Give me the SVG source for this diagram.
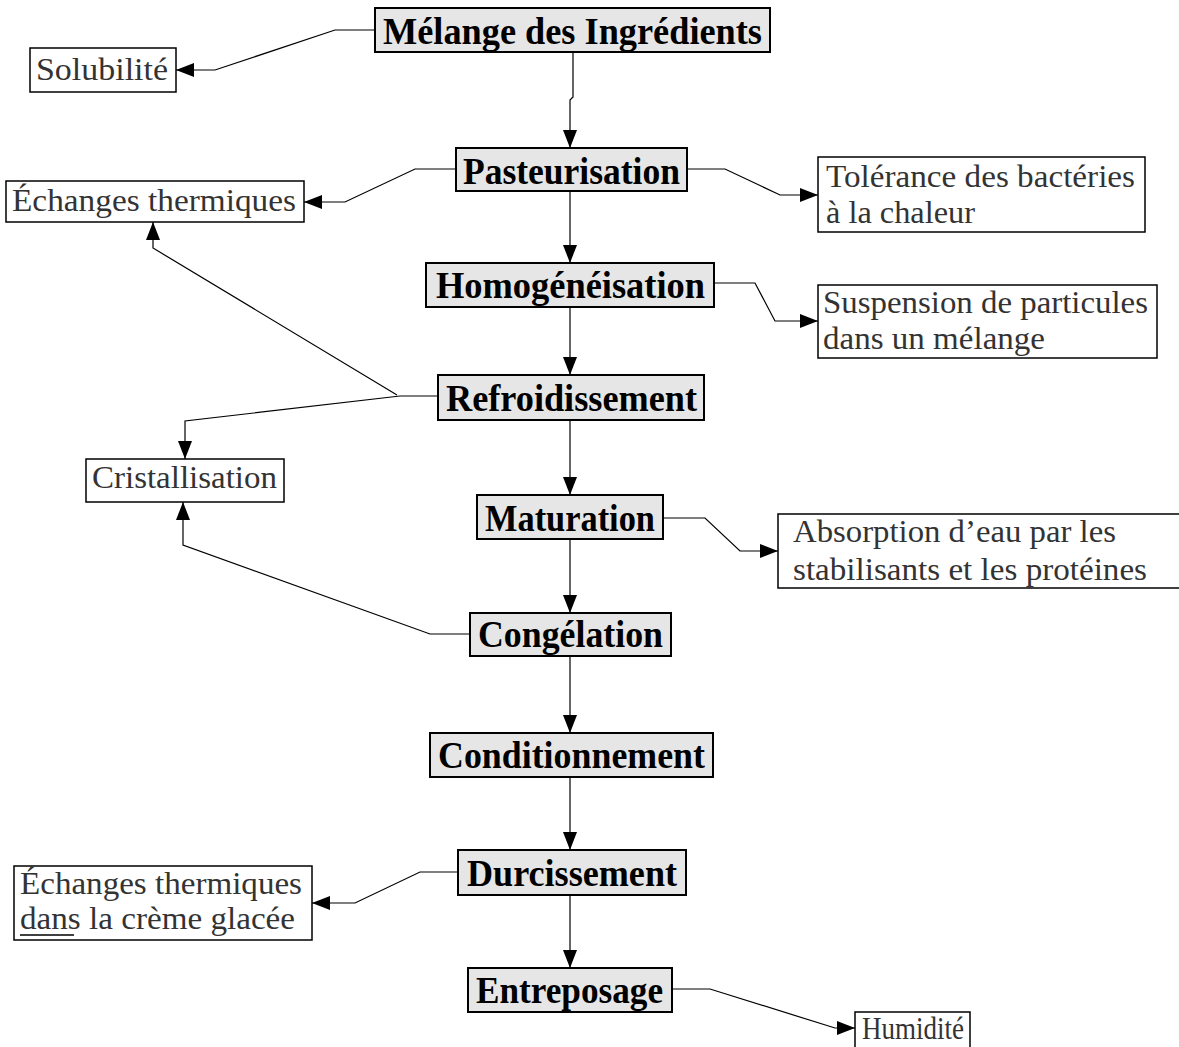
<svg xmlns="http://www.w3.org/2000/svg" width="1179" height="1047" viewBox="0 0 1179 1047">
<style>
.main rect{fill:#e6e6e6;stroke:#000;stroke-width:2}
.main text{font-family:"Liberation Serif","Times New Roman",serif;font-weight:bold;font-size:37px;fill:#000}
.side rect{fill:#fff;stroke:#000;stroke-width:1.5}
.side text{font-family:"Liberation Serif","Times New Roman",serif;font-size:31px;fill:#333}
#connectors path{fill:none;stroke:#000;stroke-width:1.2}
</style>
<defs>
<marker id="ah" markerWidth="18" markerHeight="14" refX="18" refY="7" orient="auto" markerUnits="userSpaceOnUse">
<path d="M0,0 L18,7 L0,14 Z" fill="#000"/>
</marker>
</defs>
<rect width="1179" height="1047" fill="#fff"/>
<g id="connectors">
<path d="M573,52 V97 L570,100 V148" marker-end="url(#ah)"/>
<path d="M570,191 V263" marker-end="url(#ah)"/>
<path d="M570,307 V375" marker-end="url(#ah)"/>
<path d="M570,420 V495" marker-end="url(#ah)"/>
<path d="M570,539 V613" marker-end="url(#ah)"/>
<path d="M570,656 V733" marker-end="url(#ah)"/>
<path d="M570,777 V850" marker-end="url(#ah)"/>
<path d="M570,895 V968" marker-end="url(#ah)"/>
<path d="M375,30 H335 L215,70 H176" marker-end="url(#ah)"/>
<path d="M456,169 H415 L345,202 H304" marker-end="url(#ah)"/>
<path d="M687,169 H725 L780,195 H818" marker-end="url(#ah)"/>
<path d="M714,283 H755 L775,321 H818" marker-end="url(#ah)"/>
<path d="M438,396 H400 L185,421 V459" marker-end="url(#ah)"/>
<path d="M397,395 L153,248 V222" marker-end="url(#ah)"/>
<path d="M663,518 H705 L740,551 H778" marker-end="url(#ah)"/>
<path d="M470,634 H430 L183,545 V502" marker-end="url(#ah)"/>
<path d="M458,872 H420 L355,903 H312" marker-end="url(#ah)"/>
<path d="M672,989 H710 L835,1028 H855" marker-end="url(#ah)"/>
</g>
<g id="melange" class="main"><rect x="375" y="8" width="395" height="44"/><text x="383" y="44" textLength="379" lengthAdjust="spacingAndGlyphs">Mélange des Ingrédients</text></g>
<g id="pasteurisation" class="main"><rect x="456" y="148" width="231" height="43"/><text x="463" y="184" textLength="217" lengthAdjust="spacingAndGlyphs">Pasteurisation</text></g>
<g id="homogeneisation" class="main"><rect x="426" y="263" width="288" height="44"/><text x="436" y="298" textLength="269" lengthAdjust="spacingAndGlyphs">Homogénéisation</text></g>
<g id="refroidissement" class="main"><rect x="438" y="375" width="266" height="45"/><text x="446" y="411" textLength="251" lengthAdjust="spacingAndGlyphs">Refroidissement</text></g>
<g id="maturation" class="main"><rect x="477" y="495" width="186" height="44"/><text x="485" y="531" textLength="170" lengthAdjust="spacingAndGlyphs">Maturation</text></g>
<g id="congelation" class="main"><rect x="470" y="613" width="201" height="43"/><text x="478" y="647" textLength="185" lengthAdjust="spacingAndGlyphs">Congélation</text></g>
<g id="conditionnement" class="main"><rect x="430" y="733" width="283" height="44"/><text x="438" y="768" textLength="267" lengthAdjust="spacingAndGlyphs">Conditionnement</text></g>
<g id="durcissement" class="main"><rect x="458" y="850" width="228" height="45"/><text x="467" y="886" textLength="210" lengthAdjust="spacingAndGlyphs">Durcissement</text></g>
<g id="entreposage" class="main"><rect x="468" y="968" width="204" height="44"/><text x="476" y="1003" textLength="187" lengthAdjust="spacingAndGlyphs">Entreposage</text></g>
<g id="solubilite" class="side"><rect x="30" y="48" width="146" height="44"/><text x="36" y="80" textLength="132" lengthAdjust="spacingAndGlyphs">Solubilité</text></g>
<g id="echanges1" class="side"><rect x="6" y="181" width="298" height="41"/><text x="12" y="211" textLength="284" lengthAdjust="spacingAndGlyphs">Échanges thermiques</text></g>
<g id="tolerance" class="side"><rect x="818" y="157" width="327" height="75"/><text x="826" y="187" textLength="309" lengthAdjust="spacingAndGlyphs">Tolérance des bactéries</text><text x="826" y="223" textLength="149" lengthAdjust="spacingAndGlyphs">à la chaleur</text></g>
<g id="suspension" class="side"><rect x="818" y="285" width="339" height="73"/><text x="823" y="313" textLength="325" lengthAdjust="spacingAndGlyphs">Suspension de particules</text><text x="823" y="349" textLength="222" lengthAdjust="spacingAndGlyphs">dans un mélange</text></g>
<g id="cristallisation" class="side"><rect x="86" y="459" width="198" height="43"/><text x="92" y="488" textLength="185" lengthAdjust="spacingAndGlyphs">Cristallisation</text></g>
<g id="absorption" class="side"><rect x="778" y="514" width="410" height="74"/><text x="793" y="542" textLength="323" lengthAdjust="spacingAndGlyphs">Absorption d’eau par les</text><text x="793" y="580" textLength="354" lengthAdjust="spacingAndGlyphs">stabilisants et les protéines</text></g>
<g id="echanges2" class="side"><rect x="14" y="866" width="298" height="74"/><text x="20" y="894" textLength="282" lengthAdjust="spacingAndGlyphs">Échanges thermiques</text><text x="20" y="929" textLength="275" lengthAdjust="spacingAndGlyphs">dans la crème glacée</text><line x1="20" y1="935" x2="74" y2="935" stroke="#000" stroke-width="1.5"/></g>
<g id="humidite" class="side"><rect x="855" y="1012" width="115" height="42"/><text x="862" y="1039" textLength="102" lengthAdjust="spacingAndGlyphs">Humidité</text></g>
</svg>
